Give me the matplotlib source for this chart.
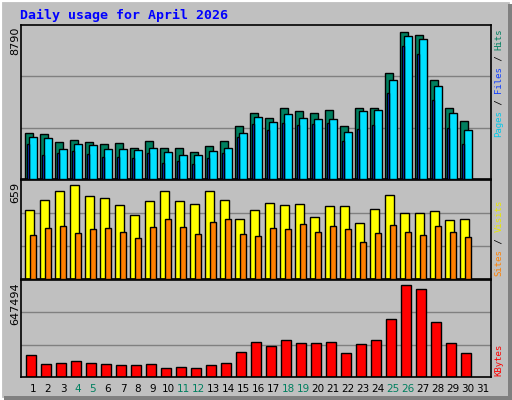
import matplotlib
matplotlib.use("Agg")
import matplotlib.pyplot as plt
from matplotlib.patches import Rectangle
import numpy as np

days = list(range(1, 32))
weekend = [4, 5, 11, 12, 18, 19, 25, 26]
hits = [2660, 2600, 2140, 2250, 2140, 2020, 2080, 1790, 2200, 1790, 1790, 1560, 1910, 2200, 3070, 3820, 3530, 4110, 3930, 3870, 3990, 3070, 4110, 4160, 6190, 8560, 8390, 5780, 4160, 3350]
files = [2430, 2370, 1730, 2020, 1970, 1730, 1730, 1680, 1790, 1560, 1390, 1390, 1620, 1790, 2660, 3590, 3300, 3760, 3530, 3470, 3470, 2720, 3930, 3990, 5780, 8330, 8150, 5440, 3870, 2830]
pages = [2020, 1390, 1500, 1620, 1450, 1270, 1270, 1210, 1500, 930, 1040, 870, 1210, 1500, 2430, 3180, 2830, 3240, 3120, 3180, 3240, 2200, 2890, 3120, 5030, 7750, 7260, 4620, 2950, 2020]
visits = [470, 538, 600, 635, 566, 552, 503, 434, 530, 600, 530, 510, 600, 538, 404, 470, 518, 503, 510, 420, 496, 496, 379, 475, 572, 447, 447, 461, 399, 404]
sites = [296, 344, 358, 310, 337, 344, 317, 275, 351, 406, 351, 303, 386, 406, 303, 289, 344, 337, 372, 317, 358, 337, 248, 310, 365, 317, 296, 358, 317, 282]
kbytes = [150000, 88000, 95000, 109000, 95000, 88000, 80000, 80000, 88000, 61000, 68000, 61000, 80000, 95000, 170000, 238000, 211000, 252000, 232000, 232000, 238000, 163000, 225000, 252000, 395000, 627000, 600000, 375000, 232000, 163000]
max_top, max_mid, max_bot = 8790, 659, 647494

GRAY = "#c0c0c0"
fig = plt.figure(figsize=(5.12, 4.0), dpi=100, facecolor=GRAY)
W, H = 512, 400

def ax_px(x0, y0, x1, y1):
    return fig.add_axes([x0 / W, 1 - y1 / H, (x1 - x0) / W, (y1 - y0) / H])

fig.patches.append(Rectangle((0, 0), 1, 1, transform=fig.transFigure, fill=False,
                             edgecolor="white", lw=3))
fig.patches.append(Rectangle((508/W, 0), 4/W, 1 - 4/H, transform=fig.transFigure,
                             facecolor="#808080", edgecolor="none"))
fig.patches.append(Rectangle((4/W, 0), 1 - 4/W, 4/H, transform=fig.transFigure,
                             facecolor="#808080", edgecolor="none"))

fig.text(20/W, 1 - 15/H, "Daily usage for April 2026", color="#0000ff", fontsize=9.5,
         fontweight="bold", family="DejaVu Sans Mono", va="center", ha="left")

X0, X1 = 21, 491
panels = [(25, 179, max_top), (180, 279, max_mid), (280, 377, max_bot)]
axes = []
for (y0, y1, m) in panels:
    ax = ax_px(X0, y0, X1, y1)
    ax.set_facecolor(GRAY)
    ax.set_xlim(0, 31.33)
    ax.set_ylim(0, m * 1.02)
    for f in (1/3, 2/3):
        ax.axhline(m * 1.02 * f, color="#808080", lw=1, zorder=0)
    ax.set_xticks([]); ax.set_yticks([])
    for s in ax.spines.values():
        s.set_color("black"); s.set_linewidth(1.2)
    axes.append(ax)

ax1, ax2, ax3 = axes
x = np.arange(30)
ec = dict(edgecolor="black", linewidth=1)
ax1.bar(x + 0.27, hits, width=0.51, align="edge", color="#007f5f", **ec, zorder=2)
ax1.bar(x + 0.53, files, width=0.54, align="edge", color="#00e0ff", **ec, zorder=3)
ax1.bar(x + 0.40, pages, width=0.13, align="edge", color="#1040ff", **ec, zorder=4)
ax2.bar(x + 0.29, visits, width=0.56, align="edge", color="#ffff00", **ec, zorder=2)
ax2.bar(x + 0.58, sites, width=0.44, align="edge", color="#ff8000", **ec, zorder=3)
ax3.bar(x + 0.33, kbytes, width=0.70, align="edge", color="#ff0000", **ec, zorder=2)

for (y0, y1, m) in panels:
    fig.text(15/W, 1 - (y0 + 2)/H, str(m), rotation=90, fontsize=8, family="DejaVu Sans",
             ha="center", va="top", color="black")

def right_label(parts, ybottom):
    y = ybottom
    for txt, col in parts:
        fig.text(499/W, 1 - y/H, txt, rotation=90, fontsize=6.5, family="DejaVu Sans Mono",
                 color=col, ha="center", va="bottom")
        y -= len(txt) * 5.45

right_label([("Pages", "#00c8e8"), (" / ", "black"), ("Files", "#1040ff"), (" / ", "black"), ("Hits", "#007f5f")], 137)
right_label([("Sites", "#ff8000"), (" / ", "black"), ("Visits", "#e8e800")], 276)
right_label([("KBytes", "#ff0000")], 376)

for d in days:
    fig.text((X0 + (d - 1) * 15 + 12) / W, 1 - 389/H, str(d), fontsize=7.5, family="DejaVu Sans",
             color="#007f5f" if d in weekend else "black", ha="center", va="center")

fig.savefig("out.png", dpi=100, facecolor=GRAY)
